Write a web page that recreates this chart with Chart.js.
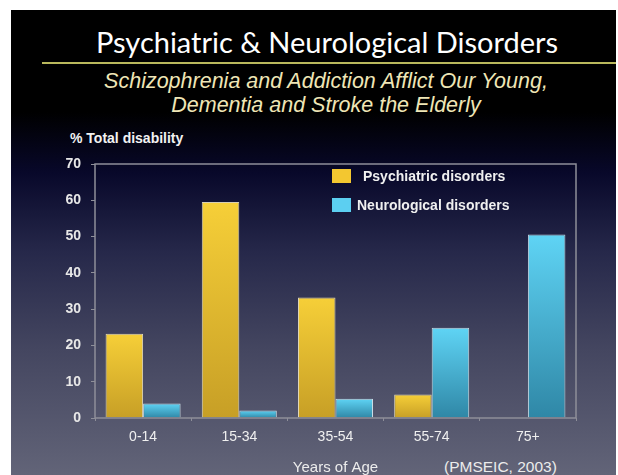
<!DOCTYPE html>
<html>
<head>
<meta charset="utf-8">
<script src="https://cdn.jsdelivr.net/npm/chart.js@4.4.1/dist/chart.umd.min.js"></script>
<style>
  html, body { margin: 0; padding: 0; background: #fff; }
  #page { position: relative; width: 618px; height: 475px; overflow: hidden; }
  #slide {
    position: absolute; left: 11px; top: 10px; width: 605px; height: 465px;
    background: linear-gradient(to bottom, #000 0%, #000 22%, #08082a 35%, #26284a 52%, #444660 73%, #626478 100%);
  }
  #chart { position: absolute; left: 0; top: 0; }
  .txt { position: absolute; white-space: nowrap; }
  #title {
    left: 27px; width: 600px; top: 27px; text-align: center;
    font: 29px/29px Lato, "Open Sans", sans-serif; color: #fff;
  }
  #rule { position: absolute; left: 42px; top: 62px; width: 574px; height: 2px; background: #b9b85c; }
  #subtitle {
    left: 26px; width: 600px; top: 69px; text-align: center;
    font: italic 21.5px/24px "Liberation Sans", Arial, sans-serif; color: #efe6b6;
  }
  #ylabel { left: 70px; top: 130px; font: bold 14px/16px "Liberation Sans", Arial, sans-serif; color: #f2f2f2; }
  #source { left: 444px; top: 459px; font: 15.5px/16px "Liberation Sans", Arial, sans-serif; color: #ececec; }
</style>
</head>
<body>
<div id="page">
  <div id="slide"></div>
  <div class="txt" id="title">Psychiatric &amp; Neurological Disorders</div>
  <div id="rule"></div>
  <div class="txt" id="subtitle">Schizophrenia and Addiction Afflict Our Young,<br>Dementia and Stroke the Elderly</div>
  <div class="txt" id="ylabel">% Total disability</div>
  <div class="txt" id="source">(PMSEIC, 2003)</div>
  <canvas id="chart" width="618" height="475"></canvas>
</div>
<script>
const ageGroups = ["0-14", "15-34", "35-54", "55-74", "75+"];
const psychiatric = [23.2, 59.5, 33.2, 6.5, 0];
const neurological = [4.0, 2.1, 5.3, 24.9, 50.6];
const yTicks = [0, 10, 20, 30, 40, 50, 60, 70];

const font = "'Liberation Sans', Arial, sans-serif";

// each bar fades from bright at its top to darker at the axis
const barGrad = (top, bottom) => (ctx) => {
  const chart = ctx.chart;
  const area = chart.chartArea;
  if (!area || ctx.type !== "data") return top;
  const yTop = chart.scales.y.getPixelForValue(ctx.raw);
  if (area.bottom - yTop < 2) return top;
  const g = chart.ctx.createLinearGradient(0, yTop, 0, area.bottom);
  g.addColorStop(0, top);
  g.addColorStop(1, bottom);
  return g;
};

// frame round the plot area
const frame = {
  id: "frame",
  afterDatasetsDraw(chart) {
    const { ctx, chartArea: a } = chart;
    ctx.save();
    ctx.strokeStyle = "#8e8f99";
    ctx.lineWidth = 1.5;
    ctx.strokeRect(a.left, a.top, a.right - a.left, a.bottom - a.top);
    ctx.restore();
  },
};

// legend inside the plot, top right
const insideLegend = {
  id: "insideLegend",
  afterDraw(chart) {
    const { ctx, chartArea: a } = chart;
    const items = [
      { ds: chart.data.datasets[0], swatch: "#f3c730", dx: 268, dy: 12 },
      { ds: chart.data.datasets[1], swatch: "#5ccff1", dx: 262, dy: 41 },
    ];
    ctx.save();
    ctx.font = "bold 14px " + font;
    ctx.textBaseline = "middle";
    items.forEach((it) => {
      ctx.fillStyle = it.swatch;
      ctx.fillRect(a.left + 237, a.top + it.dy - 7, 19, 14);
      ctx.fillStyle = "#f0f0f0";
      ctx.fillText(it.ds.label, a.left + it.dx, a.top + it.dy + 1);
    });
    ctx.restore();
  },
};

new Chart(document.getElementById("chart"), {
  type: "bar",
  data: {
    labels: ageGroups,
    datasets: [
      {
        label: "Psychiatric disorders",
        data: psychiatric,
        backgroundColor: barGrad("#f6cf38", "#c79f26"),
        borderColor: "rgba(250,240,200,0.85)",
        borderWidth: 1,
      },
      {
        label: "Neurological disorders",
        data: neurological,
        backgroundColor: barGrad("#5fd4f5", "#2f87a6"),
        borderColor: "rgba(225,245,250,0.85)",
        borderWidth: 1,
      },
    ],
  },
  options: {
    responsive: false,
    animation: false,
    layout: { padding: { left: 0, top: 164, right: 42, bottom: 0 } },
    categoryPercentage: 0.78,
    barPercentage: 1,
    plugins: { legend: { display: false }, tooltip: { enabled: false } },
    scales: {
      x: {
        afterFit: (s) => { s.height = 57; },
        grid: { display: true, drawOnChartArea: false, offset: true, tickLength: 3, color: "#8e8f99" },
        border: { display: false },
        ticks: { color: "#f0f0f0", font: { family: font, size: 14 }, padding: 8 },
        title: {
          display: true, text: "Years of Age", color: "#ececec",
          font: { family: font, size: 15, lineHeight: 1 }, padding: { top: 0, bottom: 0 },
        },
      },
      y: {
        min: 0,
        max: 70,
        afterFit: (s) => { s.width = 95; },
        afterBuildTicks: (s) => { s.ticks = yTicks.map((v) => ({ value: v })); },
        grid: { display: true, drawOnChartArea: false, tickLength: 4, color: "#8e8f99" },
        border: { display: false },
        ticks: { color: "#e8e8e8", font: { family: font, size: 14, weight: "bold" }, padding: 10 },
      },
    },
  },
  plugins: [frame, insideLegend],
});
</script>
</body>
</html>
